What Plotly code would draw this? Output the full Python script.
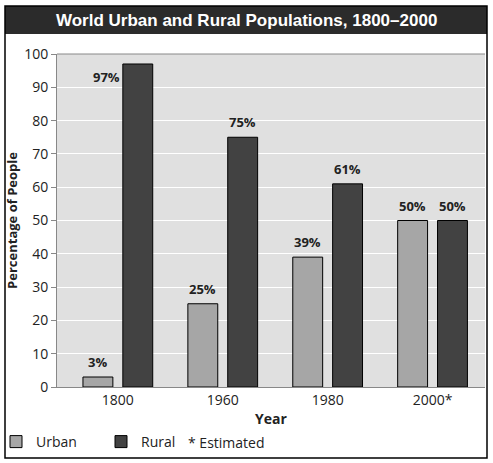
import plotly.graph_objects as go

years = ["1800", "1960", "1980", "2000*"]
urban = [3, 25, 39, 50]
rural = [97, 75, 61, 50]
y_ticks = list(range(0, 101, 10))

URBAN_COL = "#a6a6a6"
RURAL_COL = "#424242"
LABEL_FONT = "Open Sans, DejaVu Sans, sans-serif"

# plot area in pixels: x 57..485, y 54..387
def px(x):
    return (x - 57) / 428.0

def py(y):
    return (387 - y) / 333.0

fig = go.Figure()
fig.add_trace(go.Bar(x=years, y=urban, name="Urban",
                     marker=dict(color=URBAN_COL, line=dict(color="black", width=1))))
fig.add_trace(go.Bar(x=years, y=rural, name="Rural",
                     marker=dict(color=RURAL_COL, line=dict(color="black", width=1))))

# value labels (x given as category index, names like "1800" would be read as numbers)
annos = []
for i, yr in enumerate(years):
    annos.append(dict(x=i, y=urban[i], text="<b>%d%%</b>" % urban[i], showarrow=False,
                      xref="x", yref="y", xshift=-20, yshift=15,
                      font=dict(family=LABEL_FONT, size=13, color="#222")))
    if rural[i] > 90:
        xs, ys = -11, -13
    else:
        xs, ys = 20, 15
    annos.append(dict(x=i, y=rural[i], text="<b>%d%%</b>" % rural[i], showarrow=False,
                      xref="x", yref="y", xshift=xs, yshift=ys,
                      font=dict(family=LABEL_FONT, size=13, color="#222")))

annos.append(dict(x=px(246), y=py(20), xref="paper", yref="paper", showarrow=False,
                  text="<b>World Urban and Rural Populations, 1800\u20132000</b>",
                  xanchor="center", yanchor="middle",
                  font=dict(family="Liberation Sans, Arial, sans-serif", size=17, color="white")))
annos.append(dict(x=px(186), y=py(442), xref="paper", yref="paper", showarrow=False,
                  text="* Estimated", xanchor="left", yanchor="middle",
                  font=dict(family=LABEL_FONT, size=14, color="#222")))

shapes = [
    dict(type="rect", xref="paper", yref="paper", x0=px(5), x1=px(487), y0=py(34), y1=py(6),
         line=dict(color="#2b2b2b", width=0), fillcolor="#2b2b2b"),
    dict(type="rect", xref="paper", yref="paper", x0=px(5), x1=px(487), y0=py(458), y1=py(6),
         line=dict(color="black", width=1.5), fillcolor="rgba(0,0,0,0)", layer="above"),
    # top border of plot area
    dict(type="line", xref="paper", yref="paper", x0=0, x1=1, y0=1, y1=1,
         line=dict(color="#888", width=1)),
]

fig.update_layout(
    width=493, height=463,
    margin=dict(l=57, r=8, t=54, b=76, autoexpand=False),
    paper_bgcolor="white",
    plot_bgcolor="#e0e0e0",
    barmode="group",
    bargap=0.24,
    bargroupgap=0.25,
    showlegend=True,
    legend=dict(orientation="h", x=px(-4), y=py(442), xanchor="left", yanchor="middle",
                entrywidth=60, entrywidthmode="pixels", itemwidth=30,
                font=dict(family=LABEL_FONT, size=14, color="#222"),
                bgcolor="rgba(0,0,0,0)", traceorder="normal"),
    annotations=annos,
    shapes=shapes,
    font=dict(family=LABEL_FONT, size=14, color="#222"),
)

fig.update_xaxes(type="category", range=[-0.58, 3.5], showgrid=False,
                 showline=True, linecolor="#888", linewidth=1, mirror=False,
                 ticks="", tickfont=dict(size=14),
                 title=dict(text="<b>Year</b>", font=dict(size=14), standoff=6))
fig.update_yaxes(range=[0, 100], tickvals=y_ticks, showgrid=True, gridcolor="white",
                 gridwidth=1, showline=True, linecolor="#888", linewidth=1, mirror=False,
                 ticks="outside", ticklen=5, tickcolor="#888", tickfont=dict(size=14),
                 zeroline=False,
                 title=dict(text="<b>Percentage of People</b>", font=dict(size=13), standoff=3))

# the page's default body margin would push the figure 8px right and down
fig.write_html("out.html", config={"displayModeBar": False},
               post_script="document.body.style.margin='0px';")
